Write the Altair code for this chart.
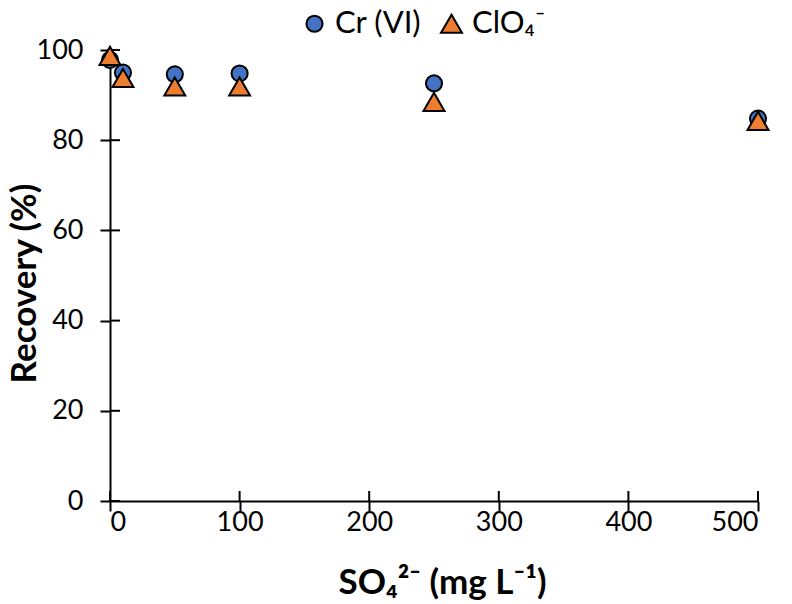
import altair as alt
import pandas as pd

# Data
so4 = [0, 10, 50, 100, 250, 500]
cr_vi = [97.8, 95.0, 94.6, 94.8, 92.6, 84.8]
clo4 = [98.7, 93.8, 91.9, 91.9, 88.5, 84.3]
series_names = ["Cr (VI)", "ClO\u2084\u207b"]
x_ticks = [0, 100, 200, 300, 400, 500]
y_ticks = [0, 20, 40, 60, 80, 100]

rows = []
for name, vals in zip(series_names, [cr_vi, clo4]):
    for xv, yv in zip(so4, vals):
        rows.append({"x": xv, "y": yv, "series": name})
df = pd.DataFrame(rows)

FONT = "Lato"
W, H = 648, 451

x_scale = alt.Scale(domain=[0, 500], nice=False)
y_scale = alt.Scale(domain=[0, 100], nice=False)

x_axis = alt.Axis(values=x_ticks, orient="bottom", title="SO\u2084\u00b2\u207b (mg L\u207b\u00b9)",
                  titleFontSize=35, titleFont=FONT, titleFontWeight="bold",
                  titleColor="black", titleX=332, titleY=81,
                  titleBaseline="middle", titleAlign="center",
                  labelFontSize=27, labelFont=FONT, labelColor="black",
                  labelPadding=-2, tickSize=10, tickWidth=2, tickColor="black",
                  domainColor="black", domainWidth=2, grid=False)
y_axis = alt.Axis(values=y_ticks, orient="left", title="Recovery (%)",
                  titleFontSize=35, titleFont=FONT, titleFontWeight="bold",
                  titleColor="black", titleX=-86, titleY=233,
                  titleBaseline="middle", titleAlign="center", titleAngle=270,
                  labelFontSize=27, labelFont=FONT, labelColor="black",
                  labelPadding=17, tickSize=10, tickWidth=2, tickColor="black",
                  domainColor="black", domainWidth=2, grid=False)

points = alt.Chart(df).mark_point(
    filled=True, stroke="black", strokeWidth=2, opacity=1, clip=False
).encode(
    x=alt.X("x:Q", scale=x_scale, axis=x_axis),
    y=alt.Y("y:Q", scale=y_scale, axis=y_axis),
    color=alt.Color("series:N",
                    scale=alt.Scale(domain=series_names, range=["#4472C4", "#ED7D31"]),
                    legend=alt.Legend(title=None, orient="none", direction="horizontal",
                                      legendX=189, legendY=-42,
                                      labelFont=FONT, labelFontSize=31, labelColor="black",
                                      labelOffset=5, columnPadding=14,
                                      symbolStrokeColor="black", symbolStrokeWidth=2,
                                      symbolOpacity=1)),
    shape=alt.Shape("series:N",
                    scale=alt.Scale(domain=series_names, range=["circle", "triangle-up"])),
    size=alt.Size("series:N",
                  scale=alt.Scale(domain=series_names, range=[260, 440])),
    order=alt.Order("order:Q"),
).transform_calculate(order="datum.series == 'Cr (VI)' ? 0 : 1")

# inner halves of the crossing tick marks
x_inner = alt.Chart(pd.DataFrame({"x": x_ticks})).mark_rule(color="black", strokeWidth=2).encode(
    x=alt.X("x:Q", scale=x_scale, axis=x_axis),
    y=alt.value(H - 10), y2=alt.value(H),
)
y_inner = alt.Chart(pd.DataFrame({"y": y_ticks})).mark_rule(color="black", strokeWidth=2).encode(
    y=alt.Y("y:Q", scale=y_scale, axis=y_axis),
    x=alt.value(0), x2=alt.value(10),
)

chart = alt.layer(x_inner, y_inner, points).properties(
    width=W, height=H,
    autosize=alt.AutoSizeParams(type="none"),
    padding={"left": 102, "top": 42, "right": 26, "bottom": 103},
).configure_view(stroke=None)

chart.save("out.html", embed_options={"renderer": "svg", "actions": False})
